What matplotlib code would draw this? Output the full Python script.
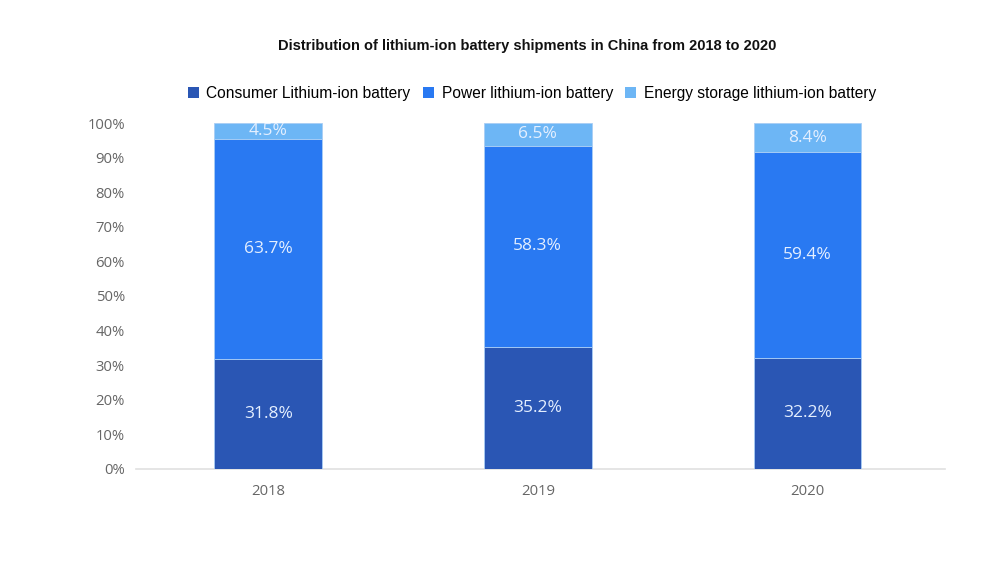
import numpy as np
import matplotlib.pyplot as plt
from matplotlib.patches import Patch

years = ['2018', '2019', '2020']
consumer = [31.8, 35.2, 32.2]
power = [63.7, 58.3, 59.4]
storage = [4.5, 6.5, 8.4]

series_names = ['Consumer Lithium-ion battery', 'Power lithium-ion battery',
                'Energy storage lithium-ion battery']
colors = ['#2a56b4', '#2979f2', '#6db6f5']

fig = plt.figure(figsize=(10, 5.63), dpi=100)
ax = fig.add_axes([0.136, 0.167, 0.809, 0.6145])

x = np.arange(len(years))
width = 0.4
bottom = np.zeros(len(years))
for vals, col in zip([consumer, power, storage], colors):
    vals = np.array(vals)
    ax.bar(x, vals, width, bottom=bottom, color=col, edgecolor='#a9cdf5',
           linewidth=0.6, zorder=3)
    for xi, b, v in zip(x, bottom, vals):
        ax.text(xi, b + v / 2, f'{v:.1f}%', ha='center', va='center',
                fontsize=12.5, color='#e4efff', family='Open Sans', zorder=4)
    bottom += vals

ax.set_xlim(-0.49, 2.51)
ax.set_ylim(0, 100)
ax.set_yticks(np.arange(0, 101, 10))
ax.set_yticklabels([f'{v}%' for v in range(0, 101, 10)])
ax.set_xticks(x)
ax.set_xticklabels(years)
for lbl in ax.get_xticklabels() + ax.get_yticklabels():
    lbl.set_family('Open Sans')
    lbl.set_fontsize(10.7)
    lbl.set_color('#666666')
ax.tick_params(length=0)
ax.tick_params(axis='y', pad=8)
ax.tick_params(axis='x', pad=11)
for side in ['top', 'right', 'left']:
    ax.spines[side].set_visible(False)
ax.spines['bottom'].set_color('#e0e0e0')
ax.spines['bottom'].set_linewidth(1.2)

fig.text(0.527, 0.918, 'Distribution of lithium-ion battery shipments in China from 2018 to 2020',
         ha='center', va='center', fontsize=10.5, family='Liberation Sans',
         color='#111111', fontweight='semibold')

handles = [Patch(facecolor=c, edgecolor='none') for c in colors]
fig.legend(handles, series_names, loc='center', bbox_to_anchor=(0.532, 0.834),
           ncol=3, frameon=False, handlelength=0.7, handleheight=0.7,
           handletextpad=0.5, columnspacing=0.8,
           prop={'family': 'Liberation Sans', 'size': 11.2})

fig.savefig('out.png', dpi=100, facecolor='white')
